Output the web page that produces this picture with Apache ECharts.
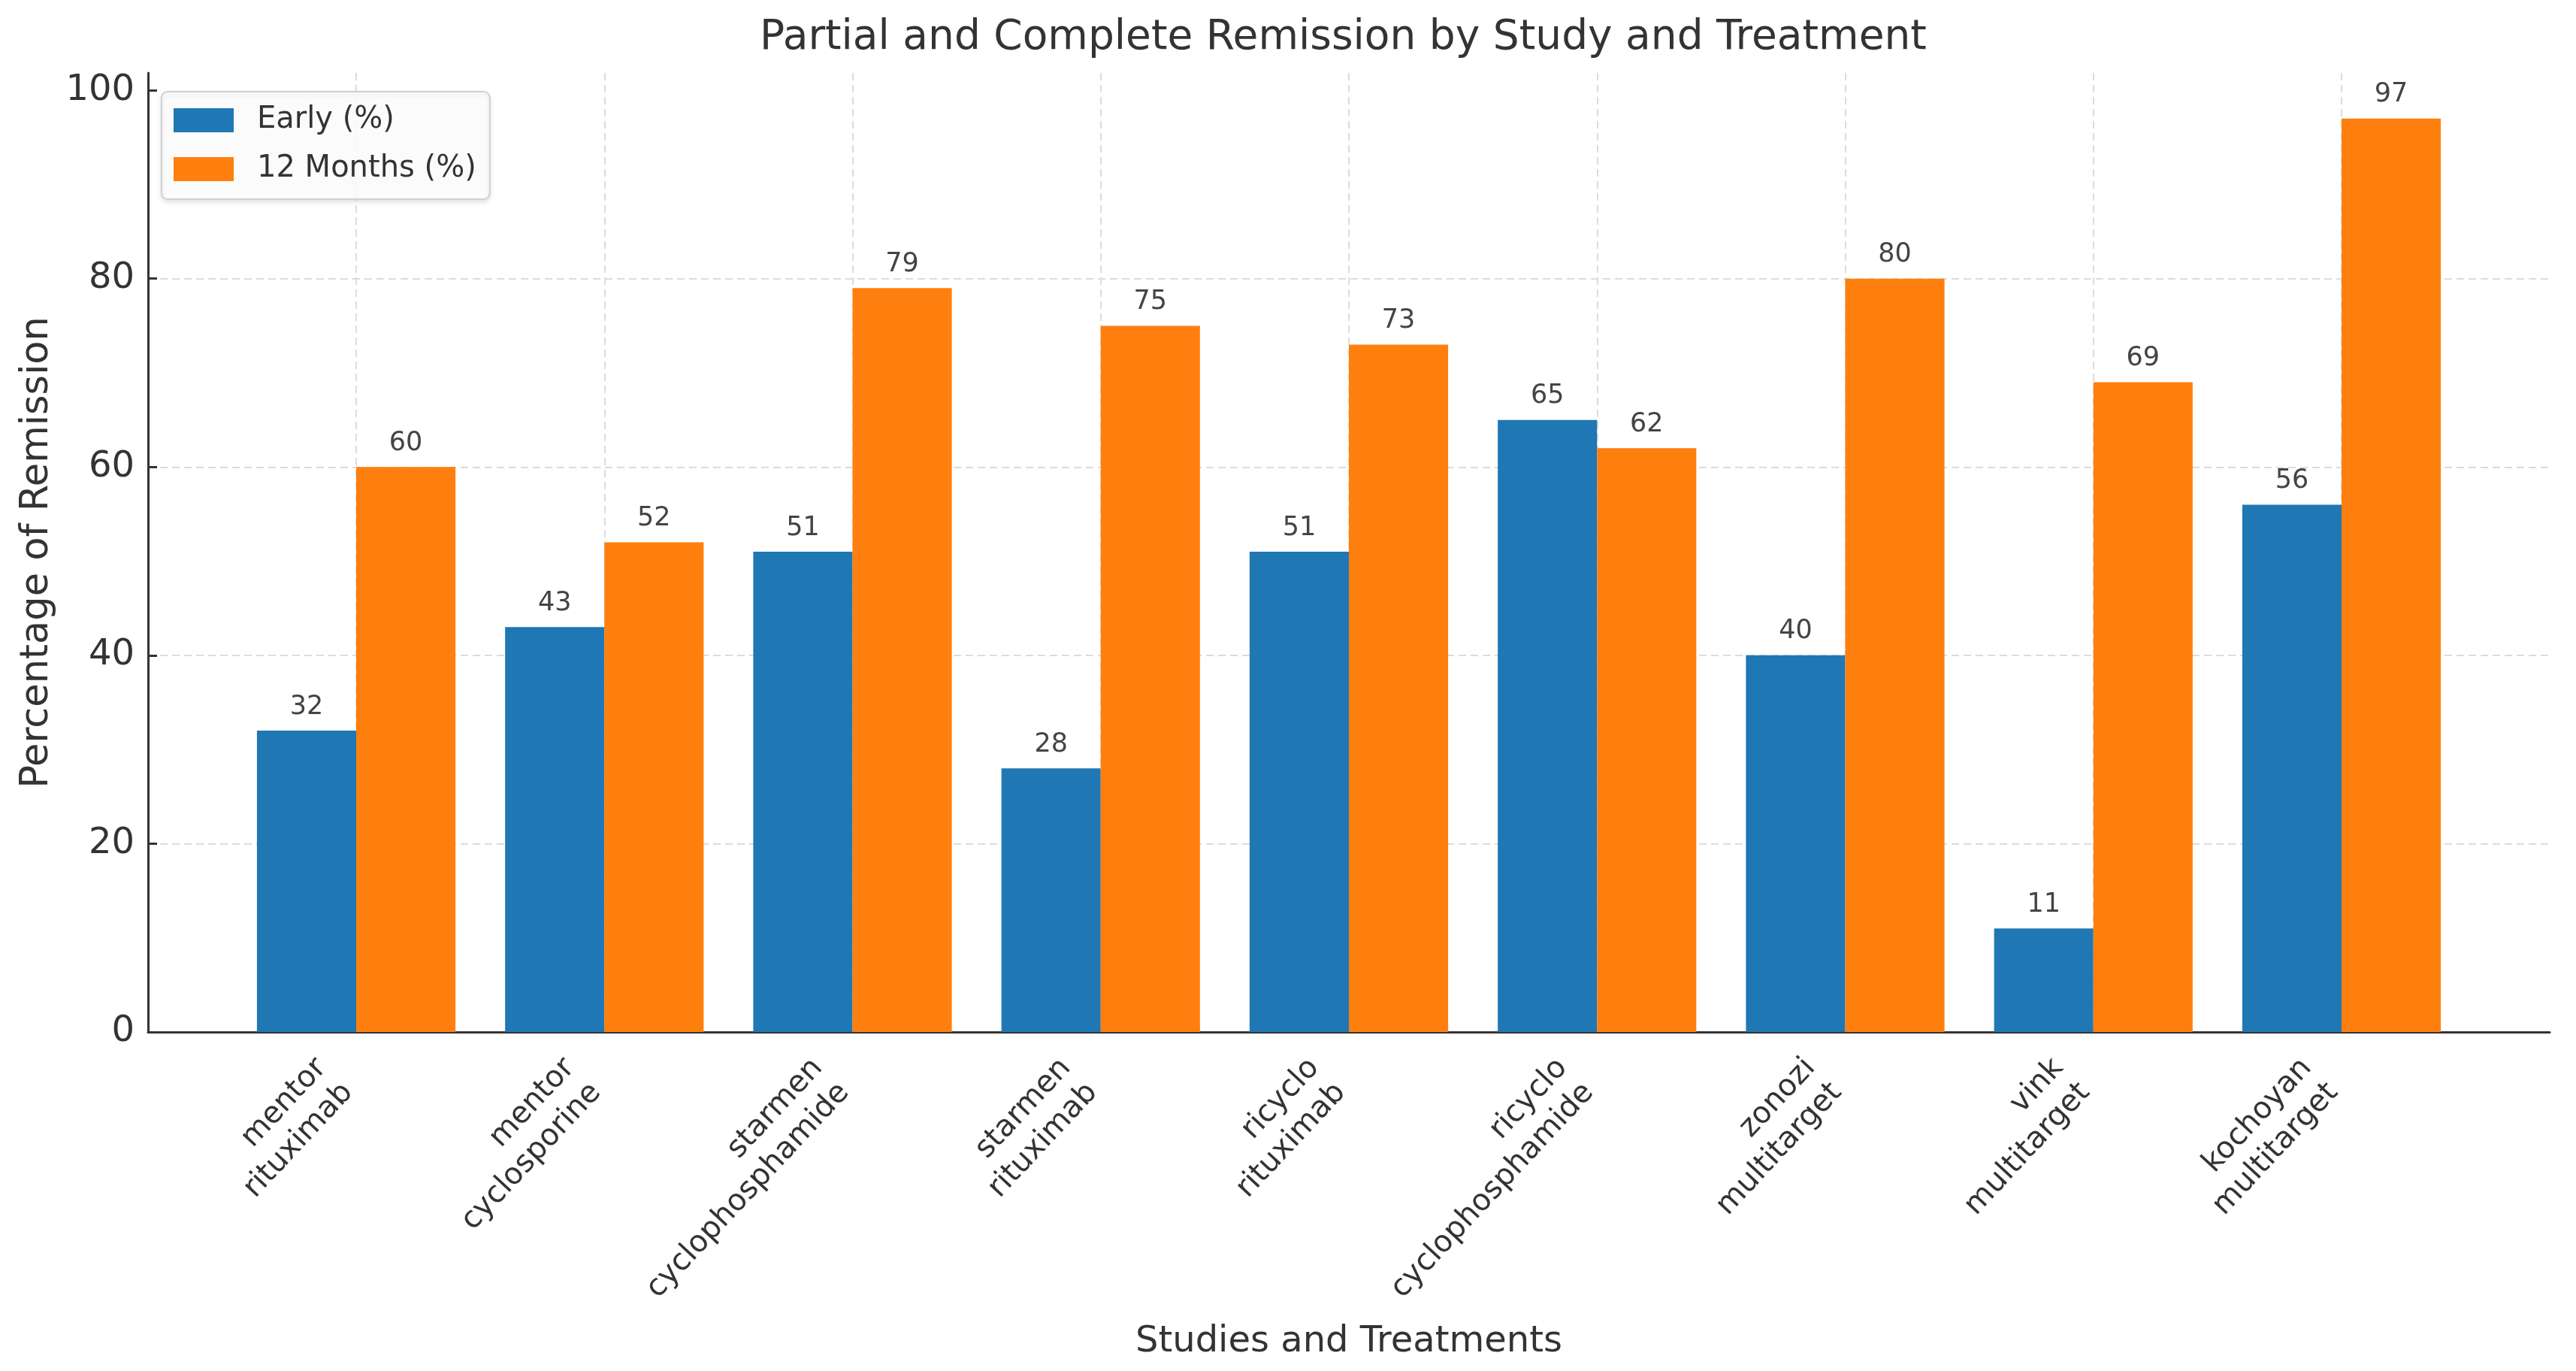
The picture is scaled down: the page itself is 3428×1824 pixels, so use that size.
<!DOCTYPE html>
<html>
<head>
<meta charset="utf-8">
<script src="https://cdn.jsdelivr.net/npm/echarts@6/dist/echarts.min.js"></script>
<style>
html,body{margin:0;padding:0;background:#fff;}
#chart{width:3428px;height:1824px;}
</style>
</head>
<body>
<div id="chart"></div>
<script>
const categories = ['mentor\nrituximab', 'mentor\ncyclosporine', 'starmen\ncyclophosphamide', 'starmen\nrituximab', 'ricyclo\nrituximab', 'ricyclo\ncyclophosphamide', 'zonozi\nmultitarget', 'vink\nmultitarget', 'kochoyan\nmultitarget'];
const early = [32, 43, 51, 28, 51, 65, 40, 11, 56];
const months12 = [60, 52, 79, 75, 73, 62, 80, 69, 97];
const yTicks = [0, 20, 40, 60, 80, 100];
const seriesNames = ['Early (%)', '12 Months (%)'];

const FONT = 'DejaVu Sans';
const yMax = 101.85;
const chart = echarts.init(document.getElementById('chart'));
const gridLine = {show: true, lineStyle: {color: '#dcdcdc', width: 2, type: [10, 6]}};

chart.setOption({
  backgroundColor: '#fff',
  textStyle: {fontFamily: FONT},
  animation: false,
  title: {
    text: 'Partial and Complete Remission by Study and Treatment',
    left: 1006, top: 18,
    textStyle: {fontFamily: FONT, fontSize: 55, fontWeight: 'normal', color: '#333'}
  },
  legend: {
    data: seriesNames,
    orient: 'vertical',
    left: 215, top: 122,
    itemWidth: 80, itemHeight: 32, itemGap: 25,
    icon: 'rect',
    padding: [18, 18, 20, 16],
    borderColor: '#d0d0d0', borderWidth: 2, borderRadius: 8,
    backgroundColor: 'rgba(255,255,255,0.85)',
    shadowColor: 'rgba(0,0,0,0.12)', shadowBlur: 6, shadowOffsetY: 3,
    textStyle: {fontFamily: FONT, fontSize: 40, color: '#333', padding: [0, 0, 0, 26]}
  },
  grid: [
    {left: 197, right: 35, top: 97, bottom: 451},
    {left: 474, right: 312, top: 97, bottom: 451}
  ],
  xAxis: [
    {
      type: 'value', gridIndex: 0, min: 0, max: 1,
      axisLine: {show: true, lineStyle: {color: '#333', width: 3}},
      axisTick: {show: false}, axisLabel: {show: false}, splitLine: {show: false},
      name: 'Studies and Treatments', nameLocation: 'middle', nameGap: 389,
      nameTextStyle: {fontFamily: FONT, fontSize: 48, color: '#333'}
    },
    {
      type: 'category', gridIndex: 1, data: categories, boundaryGap: false,
      axisLine: {show: false}, axisTick: {show: false},
      axisLabel: {
        interval: 0, rotate: 47, fontFamily: FONT, fontSize: 40, lineHeight: 48,
        color: '#333', margin: 27, padding: [0, 42, 83, 0], align: 'right'
      },
      splitLine: Object.assign({interval: 0}, gridLine)
    }
  ],
  yAxis: [
    {
      type: 'value', gridIndex: 0, min: 0, max: yMax,
      axisLine: {show: true, lineStyle: {color: '#333', width: 3}},
      axisTick: {show: true, inside: true, length: 12, lineStyle: {color: '#333', width: 3}, customValues: yTicks},
      axisLabel: {fontFamily: FONT, fontSize: 48, color: '#333', margin: 18, customValues: yTicks},
      splitLine: Object.assign({showMaxLine: false, showMinLine: false}, gridLine),
      name: 'Percentage of Remission', nameLocation: 'middle', nameGap: 122,
      nameTextStyle: {fontFamily: FONT, fontSize: 51, color: '#333'}
    },
    {
      type: 'value', gridIndex: 1, min: 0, max: yMax, show: false,
      splitLine: {show: false}
    }
  ],
  series: [
    {
      name: seriesNames[0], type: 'bar', xAxisIndex: 1, yAxisIndex: 1,
      data: early, barWidth: '40%', barGap: '0%',
      itemStyle: {color: '#1f77b4'},
      label: {show: true, position: 'top', distance: 14, fontFamily: FONT, fontSize: 35, color: '#444'}
    },
    {
      name: seriesNames[1], type: 'bar', xAxisIndex: 1, yAxisIndex: 1,
      data: months12, barWidth: '40%', barGap: '0%',
      itemStyle: {color: '#ff7f0e'},
      label: {show: true, position: 'top', distance: 14, fontFamily: FONT, fontSize: 35, color: '#444'}
    }
  ]
});
</script>
</body>
</html>
